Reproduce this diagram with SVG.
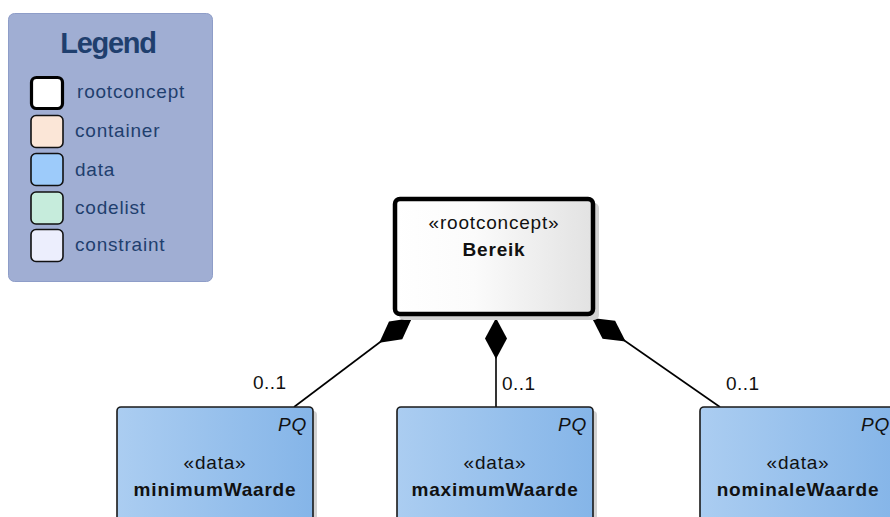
<svg xmlns="http://www.w3.org/2000/svg" width="890" height="517" viewBox="0 0 890 517">
<defs>
<linearGradient id="gRoot" x1="0" y1="0" x2="1" y2="0">
<stop offset="0" stop-color="#ffffff"/>
<stop offset="0.4" stop-color="#fbfbfb"/>
<stop offset="1" stop-color="#e2e2e2"/>
</linearGradient>
<linearGradient id="gData" x1="0" y1="0" x2="1" y2="0">
<stop offset="0" stop-color="#abcdf1"/>
<stop offset="1" stop-color="#85b5e8"/>
</linearGradient>
<marker id="diamond" markerUnits="userSpaceOnUse" markerWidth="44" markerHeight="24" refX="41" refY="0" orient="auto" overflow="visible">
<path d="M0,0 L20.5,-11 L41,0 L20.5,11 Z" fill="#000"/>
</marker>
<style>
text{font-family:"Liberation Sans",Arial,sans-serif;}
.lg{font-size:19px;fill:#1f3f6e;letter-spacing:0.8px;}
.sw{stroke:#111;stroke-width:1.6;}
.node{font-size:19px;fill:#111;letter-spacing:0.8px;}
.b{font-weight:bold;}
.pq{font-style:italic;text-anchor:end;}
.mid{text-anchor:middle;}
.data{fill:url(#gData);stroke:#1a1a1a;stroke-width:1.6;}
.shadow{fill:#d2d2d2;}
.conn{stroke:#000;stroke-width:1.6;fill:none;marker-end:url(#diamond);}
.mult{font-size:19px;fill:#111;letter-spacing:0.5px;}
</style>
</defs>
<rect width="890" height="517" fill="#ffffff"/>

<g id="legend">
<rect x="8.5" y="13.5" width="204" height="268" rx="6" fill="#a0aed3" stroke="#8e9dc8" stroke-width="1"/>
<text x="108" y="53" text-anchor="middle" style="font-size:29px;font-weight:bold;fill:#1f3f6e;letter-spacing:-1.3px">Legend</text>
<rect x="31.5" y="77.5" width="31" height="31" rx="5" fill="#ffffff" stroke="#000" stroke-width="3.2"/>
<text class="lg" x="77" y="98">rootconcept</text>
<rect class="sw" x="31" y="115.5" width="32" height="32" rx="5" fill="#fbe6d7"/>
<text class="lg" x="75" y="137">container</text>
<rect class="sw" x="31" y="153.5" width="32" height="32" rx="5" fill="#9dcbfa"/>
<text class="lg" x="75" y="176">data</text>
<rect class="sw" x="31" y="192" width="32" height="32" rx="5" fill="#c6ecdc"/>
<text class="lg" x="75" y="214">codelist</text>
<rect class="sw" x="31" y="229.5" width="32" height="32" rx="5" fill="#eceefd"/>
<text class="lg" x="75" y="251">constraint</text>
</g>

<g id="connectors">
<line class="conn" x1="294" y1="407" x2="412" y2="318"/>
<line class="conn" x1="496" y1="407" x2="496" y2="318"/>
<line class="conn" x1="720" y1="407" x2="592" y2="318"/>
<text class="mult" x="253" y="389">0..1</text>
<text class="mult" x="502" y="390">0..1</text>
<text class="mult" x="726" y="390">0..1</text>
</g>

<g id="Bereik">
<rect class="shadow" x="399" y="203" width="200" height="117" rx="5"/>
<rect x="395" y="199" width="198" height="115" rx="5" fill="url(#gRoot)" stroke="#000" stroke-width="4.5"/>
<text class="node mid" x="494" y="229">«rootconcept»</text>
<text class="node mid b" x="494" y="256">Bereik</text>
</g>

<g id="minimumWaarde">
<rect class="shadow" x="120" y="411" width="197" height="120" rx="4"/>
<rect class="data" x="117" y="407" width="196" height="120" rx="4"/>
<text class="node pq" x="307" y="431">PQ</text>
<text class="node mid" x="215" y="469">«data»</text>
<text class="node mid b" x="215" y="496">minimumWaarde</text>
</g>

<g id="maximumWaarde">
<rect class="shadow" x="400" y="411" width="197" height="120" rx="4"/>
<rect class="data" x="397" y="407" width="196" height="120" rx="4"/>
<text class="node pq" x="587" y="431">PQ</text>
<text class="node mid" x="495" y="469">«data»</text>
<text class="node mid b" x="495" y="496">maximumWaarde</text>
</g>

<g id="nominaleWaarde">
<rect class="shadow" x="703" y="411" width="197" height="120" rx="4"/>
<rect class="data" x="700" y="407" width="196" height="120" rx="4"/>
<text class="node pq" x="890" y="431">PQ</text>
<text class="node mid" x="798" y="469">«data»</text>
<text class="node mid b" x="798" y="496">nominaleWaarde</text>
</g>
</svg>
